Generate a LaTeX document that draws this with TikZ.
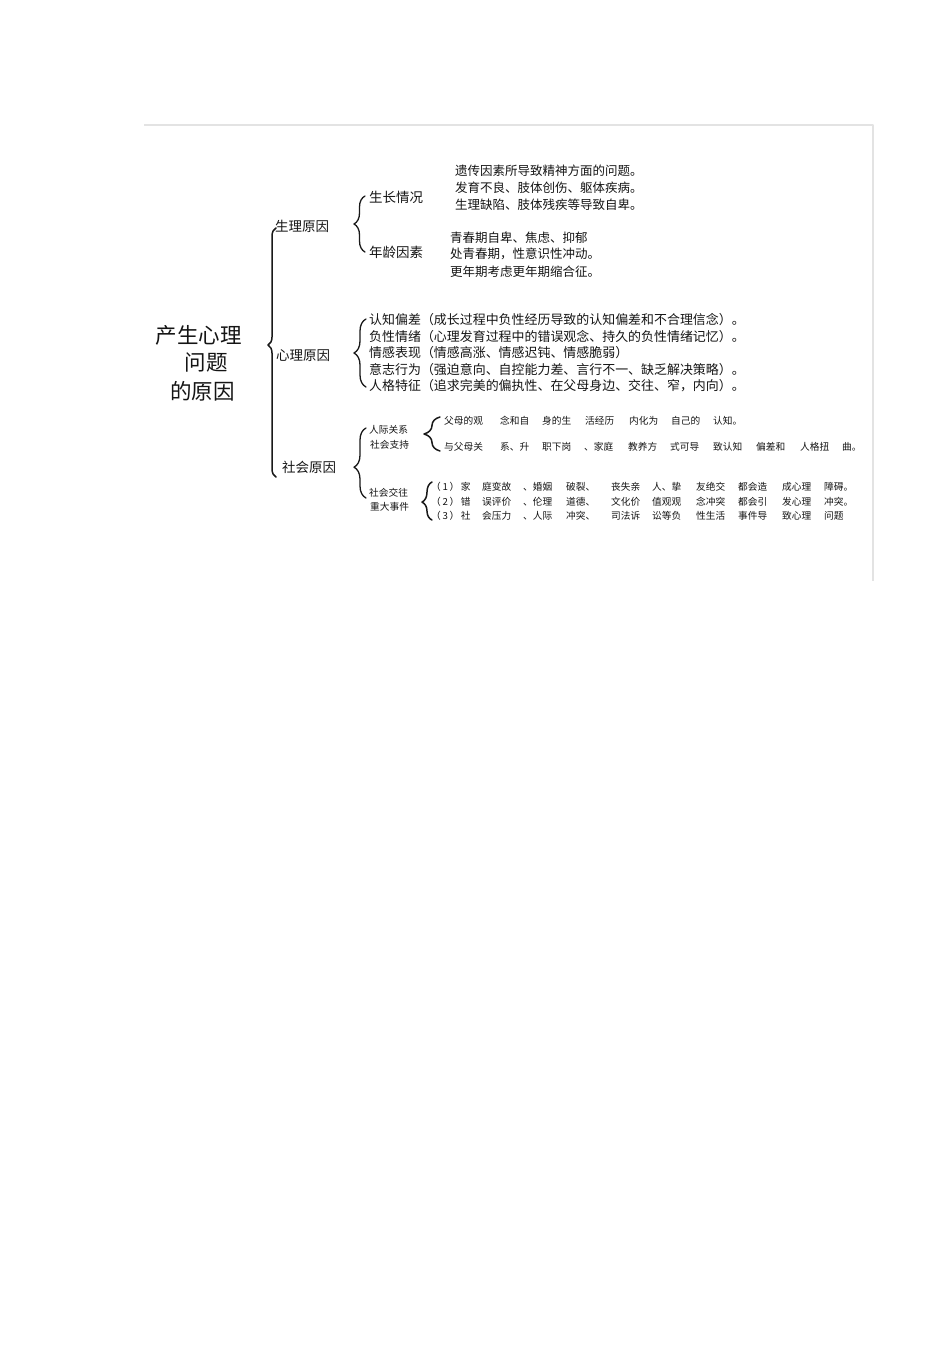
\documentclass[tikz,border=0pt]{standalone}
\usepackage{fontspec}
\newfontfamily\cjk{Noto Sans CJK SC}
\usetikzlibrary{decorations.pathreplacing}
\begin{document}
\begin{tikzpicture}[x=1pt,y=-1pt,font=\cjk,line join=round,line cap=round,
  lab/.style={anchor=west,inner sep=0pt,text=black!92},
  head/.style={inner sep=0pt,text=black!92,font=\cjk\fontsize{21.5}{26}\selectfont},
  mid/.style={lab,font=\cjk\fontsize{13.5}{16}\selectfont},
  leaf/.style={lab,font=\cjk\fontsize{12.5}{15}\selectfont},
  item/.style={lab,font=\cjk\fontsize{12.95}{16}\selectfont},
  tiny/.style={lab,font=\cjk\fontsize{9.7}{12}\selectfont},
  curly/.style={decorate,decoration={brace,amplitude=#1},line width=1.3pt,draw=black!90},
  curly/.default=12pt]
\useasboundingbox (0,0) rectangle (950,1345);
%\draw[color=gray!50,dashed,step=50] (0,0) grid (950,1345);
\draw[gray!22,line width=1.2pt,line cap=butt] (144,125)--(873,125)--(873,581);
\node[head] (t1) at (198.5,335) {产生心理};
\node[head] (t2) at (206,362) {问题};
\node[head] (t3) at (202.5,391) {的原因};
\draw[curly=8pt,line width=1.5pt,decoration={aspect=0.53}] (276,477)--(276,228);
\node[mid] (sl) at (275,226) {生理原因};
\node[mid] (xl) at (276,356) {心理原因};
\node[mid] (sh) at (282,467) {社会原因};
% physical
\draw[curly=11pt] (365,252)--(365,196);
\node[mid] (sz) at (369,197) {生长情况};
\node[mid] (nl) at (369,252) {年龄因素};
\node[leaf] (sz1) at (455,171) {遗传因素所导致精神方面的问题。};
\node[leaf] (sz2) at (455,188) {发育不良、肢体创伤、躯体疾病。};
\node[leaf] (sz3) at (455,205) {生理缺陷、肢体残疾等导致自卑。};
\node[leaf] (nl1) at (450,238) {青春期自卑、焦虑、抑郁};
\node[leaf] (nl2) at (450,254) {处青春期，性意识性冲动。};
\node[leaf] (nl3) at (450,272) {更年期考虑更年期缩合征。};
% mental
\draw[curly] (366,387)--(366,319);
\foreach \t [count=\i] in {认知偏差（成长过程中负性经历导致的认知偏差和不合理信念）。,
  负性情绪（心理发育过程中的错误观念、持久的负性情绪记忆）。,
  情感表现（情感高涨、情感迟钝、情感脆弱）,
  意志行为（强迫意向、自控能力差、言行不一、缺乏解决策略）。,
  人格特征（追求完美的偏执性、在父母身边、交往、窄，内向）。}
  \node[item] (m\i) at (369,{303.5+16.5*\i}) {\t};
% social
\draw[curly,decoration={aspect=0.44}] (366,498)--(366,428);
\node[tiny] (rj1) at (369,430) {人际关系};
\node[tiny] (rj2) at (370,445) {社会支持};
\node[tiny] (sj1) at (369,493) {社会交往};
\node[tiny] (sj2) at (370,507) {重大事件};
\draw[curly=16pt,line width=1.5pt] (440,451)--(440,417);
\foreach \x/\t [count=\i] in {444/父母的观,500/念和自,542/身的生,585/活经历,629/内化为,671/自己的,713/认知。}
  \node[tiny] (pa\i) at (\x,421) {\t};
\foreach \x/\t [count=\i] in {444/与父母关,500/系、升,542/职下岗,584/、家庭,628/教养方,670/式可导,713/致认知,756/偏差和,800/人格扭,842/曲。}
  \node[tiny] (pb\i) at (\x,447) {\t};
\draw[curly=10pt,line width=1.5pt,decoration={aspect=0.47}] (432,520)--(432,482);
\foreach \x/\a/\b/\c [count=\i] in {431/（\,1\,）\,家/（\,2\,）\,错/（\,3\,）\,社,482/庭变故/误评价/会压力,523/、婚姻/、伦理/、人际,
  566/破裂、/道德、/冲突、,611/丧失亲/文化价/司法诉,652/人、挚/值观观/讼等负,696/友绝交/念冲突/性生活,
  738/都会造/都会引/事件导,782/成心理/发心理/致心理,824/障碍。/冲突。/问题}
  {\node[tiny] (ea\i) at (\x,487) {\a};
   \node[tiny] (eb\i) at (\x,501.5) {\b};
   \node[tiny] (ec\i) at (\x,516) {\c};}
\end{tikzpicture}
\end{document}
